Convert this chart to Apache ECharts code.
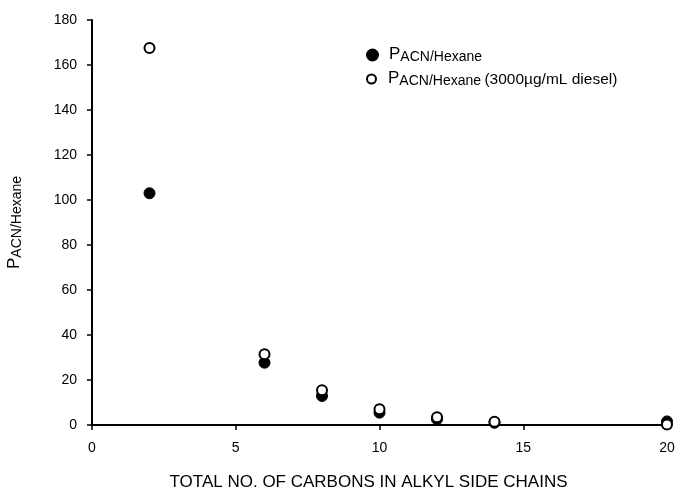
<!DOCTYPE html>
<html><head><meta charset="utf-8">
<script src="https://cdn.jsdelivr.net/npm/echarts@6/dist/echarts.min.js"></script>
<style>html,body{margin:0;padding:0;background:#fff}#c{width:675px;height:488px}</style>
</head><body><div id="c"></div>
<script>
const carbons = [2, 6, 8, 10, 12, 14, 20];
const pAcnHexane = [103, 27.7, 12.9, 5.5, 2.6, 1.0, 1.6];
const pAcnHexaneDiesel = [167.6, 31.5, 15.5, 7.0, 3.4, 1.4, 0.2];
const xTicks = [0, 5, 10, 15, 20];
const yTicks = [0, 20, 40, 60, 80, 100, 120, 140, 160, 180];

const font = '"Liberation Sans", Arial, sans-serif';
const chart = echarts.init(document.getElementById('c'));
const rich = {
  p: {fontFamily: font, fontSize: 17, color: '#000', verticalAlign: 'top', lineHeight: 18},
  s: {fontFamily: font, fontSize: 14, color: '#000', verticalAlign: 'bottom', lineHeight: 18, padding: [6, 0, 0, 0]},
  t: {fontFamily: font, fontSize: 15.5, color: '#000', verticalAlign: 'bottom', lineHeight: 18, padding: [6, 0, 0, 0]}
};
chart.setOption({
  animation: false,
  backgroundColor: '#fff',
  grid: {left: 92, right: 8, top: 20, bottom: 63, outerBoundsMode: 'none', containLabel: false},
  legend: [
    {
      orient: 'vertical', left: 366, top: 44, padding: 0,
      itemWidth: 11, itemHeight: 11,
      data: [{name: 'a', icon: 'circle'}],
      formatter: function () { return '{p|P}{s|ACN/Hexane}'; },
      textStyle: {rich: rich, padding: [0, 0, 0, 6]}
    },
    {
      orient: 'vertical', left: 366, top: 66, padding: 0,
      itemWidth: 11, itemHeight: 9,
      data: [{name: 'b', icon: 'circle'}],
      formatter: function () { return '{p|P}{s|ACN/Hexane} {t|(3000µg/mL diesel)}'; },
      textStyle: {rich: rich, padding: [0, 0, 0, 6]}
    }
  ],
  xAxis: {
    type: 'value', min: 0, max: 20, interval: 5,
    name: 'TOTAL NO. OF CARBONS IN ALKYL SIDE CHAINS',
    nameLocation: 'middle', nameGap: 49,
    nameTextStyle: {fontFamily: font, fontSize: 17, color: '#000', padding: [0, 22, 0, 0]},
    axisLine: {lineStyle: {color: '#000', width: 2}},
    axisTick: {show: true, length: 5, lineStyle: {color: '#000', width: 1.5}},
    axisLabel: {fontFamily: font, fontSize: 14, color: '#000', margin: 16},
    splitLine: {show: false}
  },
  yAxis: {
    type: 'value', min: 0, max: 180, interval: 20,
    name: '{p|P}{s|ACN/Hexane}',
    nameLocation: 'middle', nameGap: 68, nameRotate: 90,
    nameTextStyle: {rich: rich},
    axisLine: {show: true, lineStyle: {color: '#000', width: 2}},
    axisTick: {show: true, length: 5, lineStyle: {color: '#000', width: 1.5}},
    axisLabel: {fontFamily: font, fontSize: 14, color: '#000', margin: 15},
    splitLine: {show: false}
  },
  series: [
    {
      name: 'a', type: 'scatter', symbol: 'circle', symbolSize: 11,
      itemStyle: {color: '#000', borderColor: '#000', borderWidth: 1, opacity: 1},
      data: carbons.map((c, i) => [c, pAcnHexane[i]])
    },
    {
      name: 'b', type: 'scatter', symbol: 'circle', symbolSize: 10,
      itemStyle: {color: '#fff', borderColor: '#000', borderWidth: 2, opacity: 1},
      data: carbons.map((c, i) => [c, pAcnHexaneDiesel[i]])
    }
  ]
});
</script></body></html>
